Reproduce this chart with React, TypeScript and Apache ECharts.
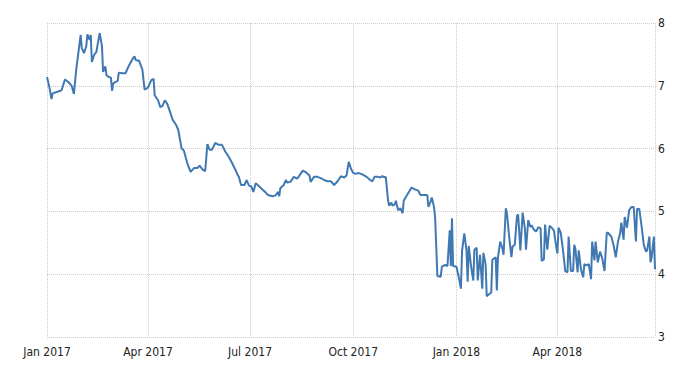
import React, { useEffect, useRef } from "react";
import * as echarts from "echarts";

const dates: string[] = [
  "2017-01-01","2017-01-03","2017-01-05","2017-01-06","2017-01-11","2017-01-14","2017-01-17","2017-01-20","2017-01-23","2017-01-25",
  "2017-01-27","2017-01-31","2017-02-01","2017-02-03","2017-02-05","2017-02-06","2017-02-08","2017-02-09","2017-02-10","2017-02-12",
  "2017-02-14","2017-02-17","2017-02-19","2017-02-20","2017-02-22","2017-02-23","2017-02-25","2017-02-27","2017-02-28","2017-03-01",
  "2017-03-05","2017-03-06","2017-03-09","2017-03-12","2017-03-15","2017-03-18","2017-03-20","2017-03-21","2017-03-24","2017-03-27",
  "2017-03-29","2017-04-01","2017-04-04","2017-04-06","2017-04-07","2017-04-10","2017-04-12","2017-04-14","2017-04-16","2017-04-18",
  "2017-04-20","2017-04-23","2017-04-26","2017-04-28","2017-05-01","2017-05-03","2017-05-06","2017-05-09","2017-05-12","2017-05-15",
  "2017-05-17","2017-05-20","2017-05-22","2017-05-24","2017-05-26","2017-05-28","2017-05-31","2017-06-03","2017-06-06","2017-06-09",
  "2017-06-12","2017-06-15","2017-06-18","2017-06-20","2017-06-21","2017-06-23","2017-06-26","2017-06-28","2017-06-30","2017-07-02",
  "2017-07-04","2017-07-06","2017-07-09","2017-07-12","2017-07-15","2017-07-17","2017-07-21","2017-07-24","2017-07-26","2017-07-27",
  "2017-07-28","2017-07-31","2017-08-02","2017-08-03","2017-08-06","2017-08-09","2017-08-12","2017-08-14","2017-08-17","2017-08-20",
  "2017-08-23","2017-08-24","2017-08-27","2017-08-30","2017-09-02","2017-09-05","2017-09-08","2017-09-11","2017-09-14","2017-09-17",
  "2017-09-20","2017-09-23","2017-09-25","2017-09-27","2017-09-29","2017-10-01","2017-10-03","2017-10-06","2017-10-09","2017-10-13",
  "2017-10-16","2017-10-18","2017-10-20","2017-10-23","2017-10-25","2017-10-27","2017-10-29","2017-10-30","2017-11-01","2017-11-02",
  "2017-11-04","2017-11-05","2017-11-07","2017-11-08","2017-11-10","2017-11-12","2017-11-14","2017-11-15","2017-11-18","2017-11-22",
  "2017-11-25","2017-11-28","2017-11-30","2017-12-03","2017-12-06","2017-12-07","2017-12-09","2017-12-10","2017-12-12","2017-12-13",
  "2017-12-15","2017-12-18","2017-12-19","2017-12-22","2017-12-24","2017-12-26","2017-12-27","2017-12-28","2017-12-29","2018-01-01",
  "2018-01-03","2018-01-05","2018-01-06","2018-01-08","2018-01-10","2018-01-11","2018-01-12","2018-01-14","2018-01-16","2018-01-17",
  "2018-01-19","2018-01-20","2018-01-22","2018-01-24","2018-01-25","2018-01-27","2018-01-28","2018-01-30","2018-02-01","2018-02-02",
  "2018-02-05","2018-02-06","2018-02-07","2018-02-09","2018-02-11","2018-02-12","2018-02-14","2018-02-15","2018-02-17","2018-02-19",
  "2018-02-20","2018-02-22","2018-02-24","2018-02-25","2018-02-27","2018-03-01","2018-03-03","2018-03-04","2018-03-06","2018-03-08",
  "2018-03-09","2018-03-11","2018-03-13","2018-03-15","2018-03-17","2018-03-18","2018-03-20","2018-03-21","2018-03-23","2018-03-25",
  "2018-03-27","2018-03-29","2018-03-30","2018-04-01","2018-04-02","2018-04-04","2018-04-06","2018-04-08","2018-04-10","2018-04-11",
  "2018-04-13","2018-04-15","2018-04-16","2018-04-17","2018-04-19","2018-04-20","2018-04-22","2018-04-24","2018-04-25","2018-04-27",
  "2018-04-29","2018-05-01","2018-05-02","2018-05-04","2018-05-05","2018-05-07","2018-05-09","2018-05-11","2018-05-13","2018-05-15",
  "2018-05-16","2018-05-19","2018-05-21","2018-05-23","2018-05-25","2018-05-27","2018-05-28","2018-05-30","2018-05-31","2018-06-02",
  "2018-06-04","2018-06-06","2018-06-08","2018-06-10","2018-06-11","2018-06-13","2018-06-15","2018-06-17","2018-06-19","2018-06-20",
  "2018-06-22","2018-06-23","2018-06-24","2018-06-26","2018-06-27",
];

const values: number[] = [
  7.14,6.99,6.79,6.88,6.91,6.93,7.10,7.06,7.00,6.87,
  7.25,7.81,7.60,7.52,7.63,7.82,7.73,7.81,7.38,7.49,
  7.54,7.84,7.63,7.22,7.31,7.17,7.14,7.13,6.92,7.04,
  7.08,7.21,7.20,7.20,7.32,7.42,7.47,7.41,7.40,7.26,
  6.94,6.97,7.09,7.11,6.85,6.77,6.66,6.68,6.77,6.72,
  6.62,6.46,6.38,6.30,6.00,5.97,5.77,5.63,5.69,5.69,
  5.73,5.66,5.64,6.07,5.98,5.98,6.09,6.06,6.06,5.95,
  5.87,5.77,5.66,5.58,5.55,5.42,5.42,5.50,5.41,5.40,
  5.31,5.45,5.40,5.35,5.30,5.26,5.24,5.26,5.31,5.24,
  5.37,5.42,5.50,5.46,5.47,5.55,5.52,5.57,5.65,5.62,
  5.57,5.47,5.55,5.55,5.53,5.50,5.48,5.48,5.42,5.48,
  5.56,5.54,5.57,5.79,5.68,5.61,5.60,5.61,5.59,5.55,
  5.50,5.48,5.55,5.55,5.54,5.56,5.54,5.55,5.18,5.09,
  5.14,5.09,5.11,5.17,5.02,5.05,4.97,5.17,5.26,5.38,
  5.35,5.33,5.26,5.26,5.26,5.07,5.16,5.22,5.07,4.90,
  3.97,3.96,4.12,4.15,4.13,4.70,4.13,4.89,4.13,4.12,
  3.96,3.77,4.37,4.65,4.37,3.88,4.45,4.13,3.90,4.39,
  4.42,3.90,4.31,3.77,4.34,4.16,3.65,3.68,3.71,4.23,
  4.27,3.74,4.27,4.52,4.41,4.31,5.05,4.97,4.60,4.27,
  4.44,4.47,4.93,4.95,4.38,4.98,4.73,4.39,4.86,4.75,
  4.78,4.71,4.68,4.75,4.73,4.21,4.24,4.79,4.39,4.77,
  4.74,4.69,4.55,4.33,4.74,4.66,4.38,4.05,4.03,4.60,
  4.05,4.05,4.47,4.41,4.03,4.38,4.08,3.95,4.16,4.14,
  4.16,3.92,4.52,4.22,4.52,4.19,4.36,4.25,4.05,4.66,
  4.66,4.60,4.47,4.27,4.52,4.66,4.82,4.55,4.91,4.74,
  5.02,5.07,5.07,4.52,5.04,5.04,4.77,4.47,4.36,4.38,
  4.60,4.19,4.27,4.60,4.08,
];

const monthNames: string[] = ["Jan","Feb","Mar","Apr","May","Jun","Jul","Aug","Sep","Oct","Nov","Dec"];
const axisStart = "2017-01-01";
const axisEnd = "2018-06-27";
const yMin = 3;
const yMax = 8;

const FONT = "'Liberation Sans Narrow', 'Arial Narrow', 'DejaVu Sans Condensed', sans-serif";

function toTime(s: string): number {
  const [y, m, d] = s.split("-").map(Number);
  return new Date(y, m - 1, d).getTime();
}

export default function App() {
  const ref = useRef<HTMLDivElement>(null);
  useEffect(() => {
    if (!ref.current) return;
    const chart = echarts.init(ref.current, null, { renderer: "svg" });
    const DAY = 86400000;
    chart.setOption({
      animation: false,
      backgroundColor: "#ffffff",
      grid: { left: 47, right: 45, top: 23, bottom: 38, containLabel: false },
      xAxis: {
        type: "time",
        min: toTime(axisStart),
        max: toTime(axisEnd),
        splitNumber: 5,
        minInterval: 100 * DAY,
        maxInterval: 100 * DAY,
        axisLine: { show: false },
        axisTick: { show: false },
        splitLine: { show: true, lineStyle: { type: "dotted", color: "#cccccc", width: 1 } },
        axisLabel: {
          margin: 9,
          color: "#222",
          fontSize: 12,
          fontFamily: FONT,
          showMaxLabel: false,
          formatter: (v: number) => {
            const d = new Date(v);
            return monthNames[d.getMonth()] + " " + d.getFullYear();
          },
        },
      },
      yAxis: {
        type: "value",
        position: "right",
        min: yMin,
        max: yMax,
        interval: 1,
        axisLine: { show: false },
        axisTick: { show: false },
        splitLine: { show: true, lineStyle: { type: "dotted", color: "#cccccc", width: 1 } },
        axisLabel: { margin: 3, color: "#222", fontSize: 12, fontFamily: FONT },
      },
      series: [
        {
          type: "line",
          data: dates.map((d, i) => [toTime(d), values[i]]),
          showSymbol: false,
          symbol: "none",
          lineStyle: { color: "#4079b2", width: 2 },
        },
      ],
    });
    return () => chart.dispose();
  }, []);
  return (
    <div
      ref={ref}
      style={{ position: "fixed", left: 0, top: 0, width: 700, height: 375, background: "#fff" }}
    />
  );
}
